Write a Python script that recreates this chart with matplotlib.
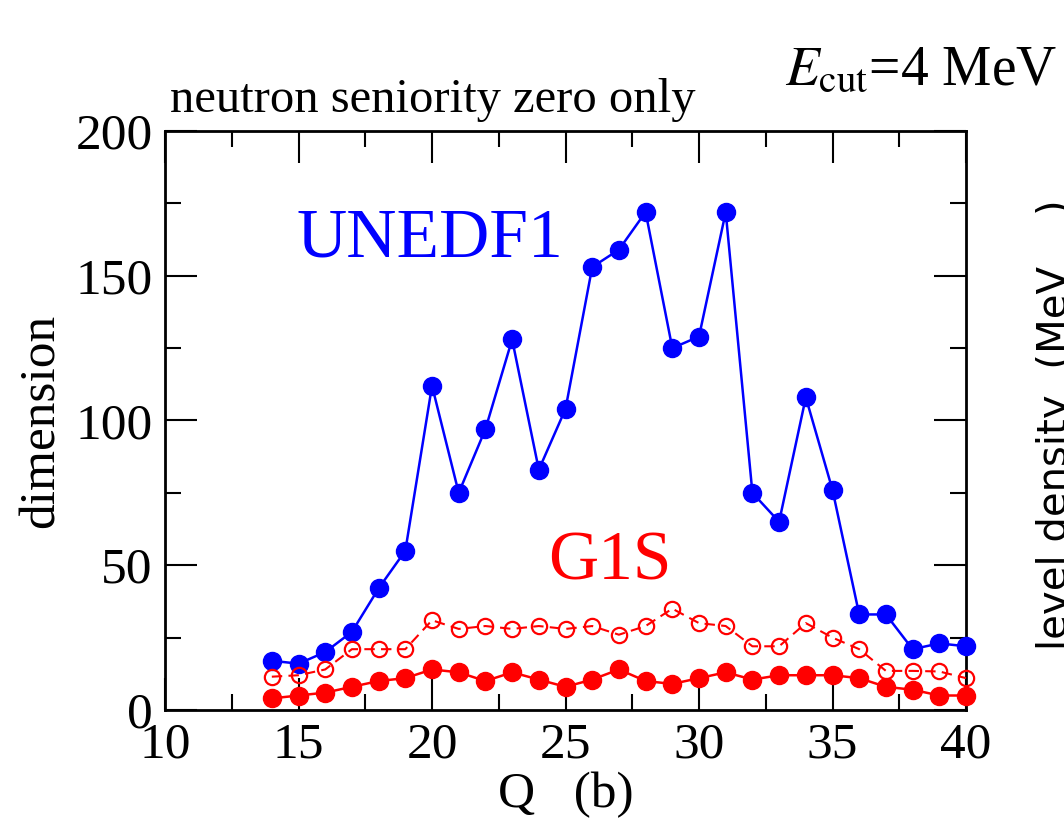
import matplotlib
matplotlib.use('Agg')
import matplotlib.pyplot as plt
from matplotlib.ticker import MultipleLocator

# 字体设置
plt.rcParams['font.family'] = ['Liberation Serif', 'DejaVu Serif']
plt.rcParams['mathtext.fontset'] = 'stix'

# 数据
Q = [14, 15, 16, 17, 18, 19, 20, 21, 22, 23, 24, 25, 26, 27,
     28, 29, 30, 31, 32, 33, 34, 35, 36, 37, 38, 39, 40]
unedf1 = [17, 16, 20, 27, 42, 55, 112, 75, 97, 128, 83, 104, 153, 159,
          172, 125, 129, 172, 75, 65, 108, 76, 33, 33, 21, 23, 22]
g1s_open = [11.5, 12, 14, 21, 21, 21, 31, 28, 29, 28, 29, 28, 29, 26,
            29, 35, 30, 29, 22, 22, 30, 25, 21, 13.5, 13.5, 13.3, 11]
g1s_full = [4, 5, 6, 8, 10, 11, 14, 13, 10, 13, 10.5, 8, 10.5, 14,
            10, 9, 11, 13, 10.5, 12, 12, 12, 11, 8, 7, 5, 5]

fig = plt.figure(figsize=(10.64, 8.27), dpi=100)
ax = fig.add_axes([0.1551, 0.1415, 0.7528, 0.7001])

# UNEDF1 曲线
ax.plot(Q, unedf1, '-o', color='#0000ff', lw=1.8, ms=13, clip_on=False, zorder=3)
# G1S 空心虚线
ax.plot(Q, g1s_open, 'o', color='#ff0000', lw=1.5, ms=11, mfc='none', mew=1.6,
        linestyle=(0, (5, 3)), clip_on=False, zorder=4)
# G1S 实心
ax.plot(Q, g1s_full, '-o', color='#ff0000', lw=1.8, ms=13, clip_on=False, zorder=5)

ax.set_xlim(10, 40)
ax.set_ylim(0, 200)
ax.xaxis.set_major_locator(MultipleLocator(5))
ax.xaxis.set_minor_locator(MultipleLocator(2.5))
ax.yaxis.set_major_locator(MultipleLocator(50))
ax.yaxis.set_minor_locator(MultipleLocator(25))
ax.tick_params(which='both', direction='in', top=True, right=True, width=1.5,
               labelsize=37, pad=9)
ax.tick_params(which='major', length=23)
ax.tick_params(which='minor', length=11.5)
for sp in ax.spines.values():
    sp.set_linewidth(2)

ax.set_xlabel('Q   (b)', fontsize=37, labelpad=2)
ax.set_ylabel('dimension', fontsize=37, labelpad=8)

# 文字标注
ax.text(14.94, 156.8, 'UNEDF1', color='#0000ff', fontsize=50, va='baseline')
ax.text(24.34, 44.9, 'G1S', color='#ff0000', fontsize=50, va='baseline')
ax.text(10.2, 203, 'neutron seniority zero only', fontsize=35, va='bottom')

fig.text(785 / 1064, 1 - 85 / 827, r'$E_{\rm cut}$=4 MeV', fontsize=40,
         va='baseline', ha='left')
# 右侧面板的纵轴标签（被裁切）
fig.text(1036 / 1064, 1 - 650 / 827, 'level density  (MeV    )',
         family='DejaVu Sans', fontsize=29, rotation=90, ha='left', va='bottom')

fig.savefig('out.png', dpi=100)
